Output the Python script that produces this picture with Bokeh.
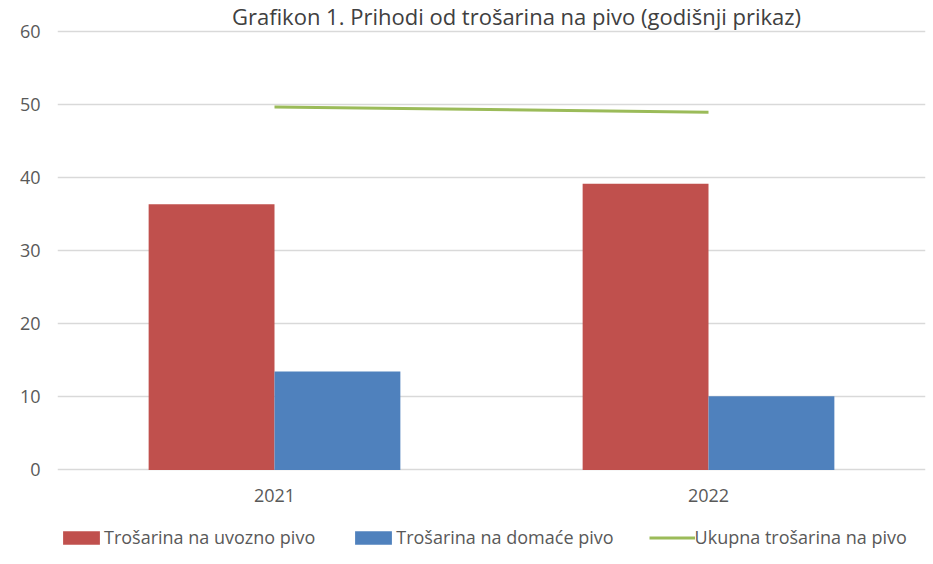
from bokeh.plotting import figure
from bokeh.models import ColumnDataSource, FactorRange, Legend, LegendItem, Label, FixedTicker
from bokeh.transform import dodge
from bokeh.core.properties import value
from bokeh.embed import file_html
from bokeh.resources import INLINE

# ---- data ----
years = ["2021", "2022"]
uvozno = [36.4, 39.2]      # Trošarina na uvozno pivo
domace = [13.5, 10.1]      # Trošarina na domaće pivo
ukupno = [49.7, 49.0]      # Ukupna trošarina na pivo
y_ticks = [0, 10, 20, 30, 40, 50, 60]
series_labels = ["Trošarina na uvozno pivo", "Trošarina na domaće pivo", "Ukupna trošarina na pivo"]
title_text = "Grafikon 1. Prihodi od trošarina na pivo (godišnji prikaz)"

RED = "#C0504D"
BLUE = "#4F81BD"
GREEN = "#9BBB59"
TXT = "#595959"
FONT = "Open Sans"

# vertical extent of the frame (covers title, category labels and legend area)
Y_TOP = 64.3
Y_BOTTOM = -12.95
CAT_LABEL_Y = -3.5

src = ColumnDataSource(dict(years=years, uvozno=uvozno, domace=domace, ukupno=ukupno,
                            label_y=[CAT_LABEL_Y] * len(years)))

p = figure(
    width=933, height=564,
    x_range=FactorRange(*years, range_padding=0),
    y_range=(Y_BOTTOM, Y_TOP),
    output_backend="svg", toolbar_location=None,
    min_border_left=57, min_border_right=8, min_border_top=0, min_border_bottom=0,
)
p.outline_line_color = None
p.background_fill_color = "white"
p.border_fill_color = "white"

bw = 0.29
r1 = p.vbar(x=dodge("years", -bw / 2, range=p.x_range), top="uvozno", width=bw, source=src,
            fill_color=RED, line_color=None)
r2 = p.vbar(x=dodge("years", bw / 2, range=p.x_range), top="domace", width=bw, source=src,
            fill_color=BLUE, line_color=None)
r3 = p.line(x="years", y="ukupno", source=src, line_color=GREEN, line_width=3)

# category labels (drawn at the category positions of the x scale)
p.text(x="years", y="label_y", text="years", source=src, text_align="center",
       text_baseline="middle", text_font=value(FONT), text_font_size="18px", text_color=TXT)

# axes
p.yaxis.ticker = FixedTicker(ticks=y_ticks)
p.yaxis.axis_line_color = None
p.yaxis.major_tick_line_color = None
p.yaxis.major_tick_out = 0
p.yaxis.major_tick_in = 0
p.yaxis.minor_tick_line_color = None
p.yaxis.major_label_standoff = 17
p.yaxis.major_label_text_font = FONT
p.yaxis.major_label_text_font_size = "18px"
p.yaxis.major_label_text_color = TXT
p.xaxis.visible = False

p.xgrid.grid_line_color = None
p.ygrid.ticker = FixedTicker(ticks=y_ticks)
p.ygrid.grid_line_color = "#d9d9d9"
p.ygrid.grid_line_width = 1.5

legend = Legend(
    items=[LegendItem(label=series_labels[0], renderers=[r1]),
           LegendItem(label=series_labels[1], renderers=[r2]),
           LegendItem(label=series_labels[2], renderers=[r3])],
    orientation="horizontal",
    location=(1, 15),
    glyph_width=46, glyph_height=17,
    label_standoff=0, spacing=35, padding=0, margin=0,
    border_line_color=None, background_fill_alpha=0,
    label_text_font=FONT, label_text_font_size="18px", label_text_color=TXT,
)
p.add_layout(legend, "center")

title = Label(x=459, y=Y_TOP, x_units="screen", y_units="data", text=title_text,
              text_align="center", text_baseline="top", text_font=FONT,
              text_font_size="22px", text_color="#404040")
p.add_layout(title)

open("out.html", "w").write(file_html(p, INLINE))
